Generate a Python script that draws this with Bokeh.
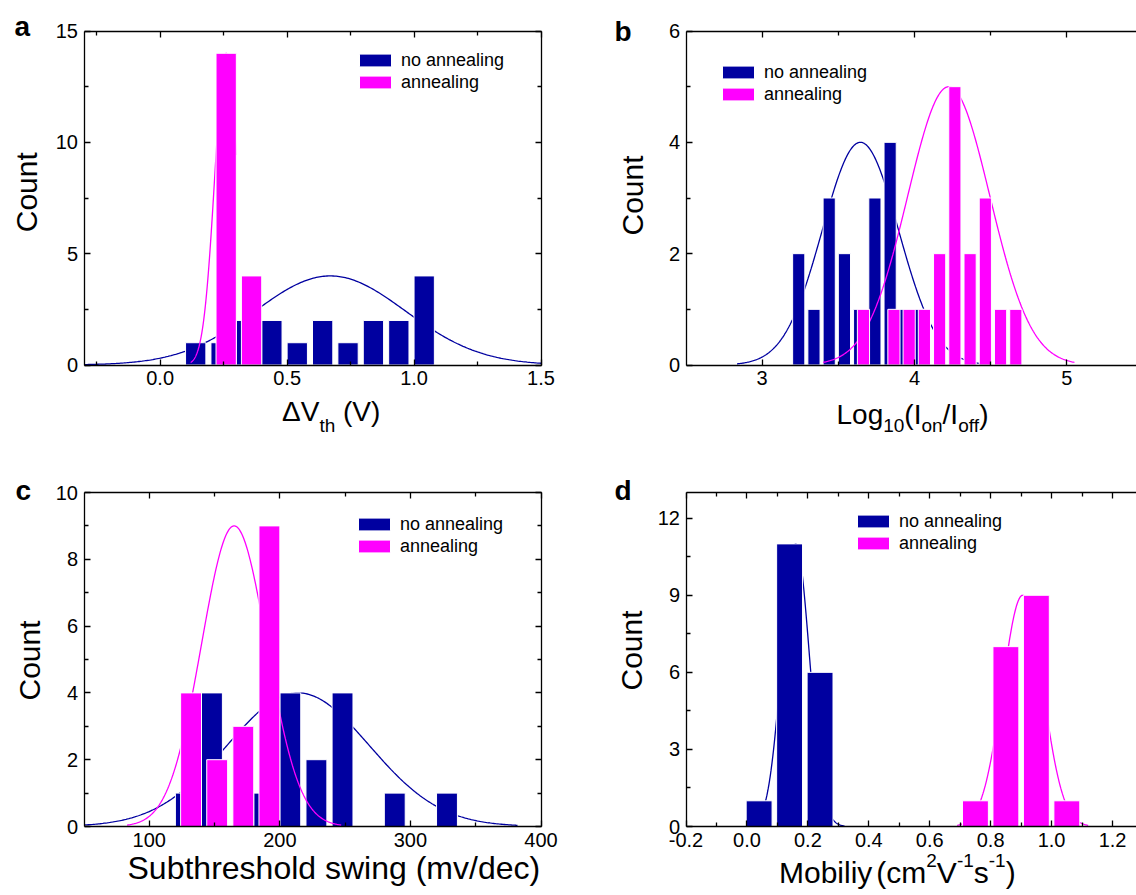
import numpy as np
from bokeh.plotting import figure
from bokeh.models import (Range1d, LinearAxis, FixedTicker, PrintfTickFormatter,
                          Legend, LegendItem, Label)
from bokeh.embed import file_html
from bokeh.resources import INLINE

NAVY = "#0000A0"
PINK = "#FF00FF"
FONT = "Liberation Sans"

# ---------------- data ----------------
# panel a : Delta V_th (V)
a_blue_x = [0.14, 0.24, 0.34, 0.44, 0.54, 0.64, 0.74, 0.84, 0.94, 1.04]
a_blue_n = [1, 1, 2, 2, 1, 2, 1, 2, 2, 4]
a_pink_x = [0.26, 0.36]
a_pink_n = [14, 4]
# fitted normal curves: mean, sd, peak, x from, x to
a_blue_fit = [0.67, 0.296, 4.0, -0.3, 1.5]
a_pink_fit = [0.26, 0.045, 14.0, 0.12, 0.30]

# panel b : Log10(Ion/Ioff)
b_blue_x = [3.24, 3.34, 3.44, 3.54, 3.64, 3.74, 3.84, 3.94, 4.04]
b_blue_n = [2, 1, 3, 2, 1, 3, 4, 1, 1]
b_pink_x = [3.665, 3.865, 3.965, 4.065, 4.165, 4.265, 4.365, 4.465, 4.565, 4.665]
b_pink_n = [1, 1, 1, 1, 2, 5, 2, 3, 1, 1]
b_blue_fit = [3.645, 0.25, 4.0, 2.835, 4.435]
b_pink_fit = [4.225, 0.27, 5.0, 3.40, 5.05]

# panel c : subthreshold swing (mv/dec)
c_blue_x = [128, 148, 188, 208, 228, 248, 288, 328]
c_blue_n = [1, 4, 1, 4, 2, 4, 1, 1]
c_pink_x = [132, 152, 172, 192]
c_pink_n = [4, 2, 3, 9]
c_blue_fit = [214.0, 54.5, 4.0, 50.0, 382.0]
c_pink_fit = [165.0, 25.0, 9.0, 83.0, 247.0]

# panel d : mobility
d_blue_x = [0.04, 0.14, 0.24]
d_blue_n = [1, 11, 6]
d_pink_x = [0.75, 0.85, 0.95, 1.05]
d_pink_n = [1, 7, 9, 1]
d_blue_fit = [0.16, 0.045, 11.0, 0.0, 0.32]
d_pink_fit = [0.905, 0.066, 9.0, 0.69, 1.12]

legend_labels = ["no annealing", "annealing"]

# ---------------- helpers ----------------
ARIAL = {' ': 278, '(': 333, ')': 333, '/': 278, '-': 333, 'Δ': 668, 'V': 667, 'L': 556,
         'I': 278, 'S': 667, 'M': 833, 'C': 722, 'a': 556, 'b': 556, 'c': 500, 'd': 556,
         'e': 556, 'f': 278, 'g': 556, 'h': 556, 'i': 222, 'l': 222, 'm': 833, 'n': 556,
         'o': 556, 'r': 333, 's': 500, 't': 278, 'u': 556, 'v': 500, 'w': 722, 'y': 500}


def text_width(s, size):
    return sum(ARIAL.get(ch, 556) for ch in s) / 1000.0 * size


def gauss_curve(fit):
    mean, sd, peak, lo, hi = fit
    xs = np.linspace(lo, hi, 300)
    ys = peak * np.exp(-(xs - mean) ** 2 / (2 * sd ** 2))
    return xs, ys


def style_axis(ax, labels=True):
    ax.axis_line_color = "black"
    ax.axis_line_width = 1.3
    ax.major_tick_line_color = "black"
    ax.major_tick_line_width = 1.3
    ax.minor_tick_line_color = "black"
    ax.minor_tick_line_width = 1.3
    ax.major_tick_in = 6
    ax.major_tick_out = 0
    ax.minor_tick_in = 4
    ax.minor_tick_out = 0
    if labels:
        ax.major_label_text_font = FONT
        ax.major_label_text_font_size = "20px"
        ax.major_label_text_color = "black"
        ax.major_label_standoff = 6
    else:
        ax.major_label_text_font_size = "0px"
        ax.major_label_text_color = None
        ax.major_label_standoff = 0


# ---------------- one canvas, page pixel coordinates ----------------
W, H = 1136, 890
SHIFT = 2   # bottom row drawn 2px higher than the reference so that it fits
BASE = 0.4  # distance (in em) between the label anchor and the glyph baseline

p = figure(width=W, height=H, x_range=Range1d(0, W), y_range=Range1d(H, 0),
           x_axis_type=None, y_axis_type=None, output_backend="svg",
           toolbar_location=None, min_border=0, outline_line_color=None,
           background_fill_color="white", border_fill_color="white")
p.xgrid.visible = False
p.ygrid.visible = False

extra_x = {}
extra_y = {}


def text(x, y, txt, size, bold=False, angle=0.0, align="left"):
    # (x, y) is where the baseline should be
    if angle == 0.0:
        y = y - BASE * size
    else:
        x = x - BASE * size
    p.add_layout(Label(x=x, y=y, text=txt, text_font=FONT, text_font_size=f"{size}px",
                       text_font_style="bold" if bold else "normal",
                       text_align=align, text_baseline="alphabetic",
                       angle=angle, text_color="black"))


def composite(x, y, pieces):
    for txt, size, dy, gap in pieces:
        x += gap
        text(x, y + dy, txt, size)
        x += text_width(txt, size)


def panel(name, box, xr, yr, xt, xm, yt, ym, xfmt, yfmt,
          bx, bn, px, pn, bfit, pfit, width, legend_at):
    L, R, T, B = box
    sx = (xr[1] - xr[0]) / (R - L)
    extra_x[name] = Range1d(xr[0] - L * sx, xr[0] + (W - L) * sx)
    yb, yt_ = H - B, H - T
    sy = (yr[1] - yr[0]) / (yt_ - yb)
    extra_y[name] = Range1d(yr[0] - yb * sy, yr[0] + (H - yb) * sy)
    p.extra_x_ranges = dict(extra_x)
    p.extra_y_ranges = dict(extra_y)

    kw = dict(x_range_name=name, y_range_name=name)
    for side, loc, bounds, tick, fmt, lab in [
            ("below", yr[0], xr, (xt, xm), xfmt, True),
            ("above", yr[1], xr, (xt, xm), xfmt, False),
            ("left", xr[0], yr, (yt, ym), yfmt, True),
            ("right", xr[1], yr, (yt, ym), yfmt, False)]:
        ax = LinearAxis(fixed_location=loc, bounds=bounds,
                        ticker=FixedTicker(ticks=tick[0], minor_ticks=tick[1]),
                        formatter=PrintfTickFormatter(format=fmt), **kw)
        style_axis(ax, lab)
        p.add_layout(ax, side)

    xs, ys = gauss_curve(bfit)
    p.line(xs, ys, line_color=NAVY, line_width=1.3, **kw)
    rb = p.vbar(x=bx, top=bn, bottom=0, width=width, fill_color=NAVY,
                line_color="white", line_width=1, **kw)
    xs, ys = gauss_curve(pfit)
    p.line(xs, ys, line_color=PINK, line_width=1.3, **kw)
    rp = p.vbar(x=px, top=pn, bottom=0, width=width, fill_color=PINK,
                line_color="white", line_width=1, **kw)

    lx, ly = legend_at
    leg = Legend(items=[LegendItem(label=legend_labels[0], renderers=[rb]),
                        LegendItem(label=legend_labels[1], renderers=[rp])],
                 location=(lx, H - ly - 40),
                 orientation="vertical", padding=0, margin=0, spacing=0,
                 glyph_width=40, glyph_height=16, label_height=22, label_standoff=6,
                 label_text_font=FONT, label_text_font_size="18px",
                 label_text_color="black",
                 border_line_color=None, background_fill_alpha=0)
    p.add_layout(leg)


# boxes: left, right, top, bottom of each plot frame in page pixels
panel("a", (83.5, 540.5, 30.5, 364.5), (-0.3, 1.5), (0, 15),
      [0.0, 0.5, 1.0, 1.5], [-0.25, 0.25, 0.75, 1.25], [0, 5, 10, 15], [2.5, 7.5, 12.5],
      "%.1f", "%d", a_blue_x, a_blue_n, a_pink_x, a_pink_n, a_blue_fit, a_pink_fit,
      0.08, (355, 53))
panel("b", (685.5, 1142.5, 30.5, 364.5), (2.5, 5.5), (0, 6),
      [3, 4, 5], [3.5, 4.5], [0, 2, 4, 6], [1, 3, 5],
      "%d", "%d", b_blue_x, b_blue_n, b_pink_x, b_pink_n, b_blue_fit, b_pink_fit,
      0.08, (718, 65))
panel("c", (83.5, 540.5, 494 - SHIFT, 828 - SHIFT), (50, 400), (0, 10),
      [100, 200, 300, 400], [150, 250, 350], [0, 2, 4, 6, 8, 10], [1, 3, 5, 7, 9],
      "%d", "%d", c_blue_x, c_blue_n, c_pink_x, c_pink_n, c_blue_fit, c_pink_fit,
      16, (354, 519 - SHIFT))
panel("d", (685.5, 1142.5, 494 - SHIFT, 828 - SHIFT), (-0.2, 1.3), (0, 13),
      [-0.2, 0.0, 0.2, 0.4, 0.6, 0.8, 1.0, 1.2], [-0.1, 0.1, 0.3, 0.5, 0.7, 0.9, 1.1],
      [0, 3, 6, 9, 12], [1.5, 4.5, 7.5, 10.5],
      "%.1f", "%d", d_blue_x, d_blue_n, d_pink_x, d_pink_n, d_blue_fit, d_pink_fit,
      0.085, (853, 516 - SHIFT))

# panel letters
text(14, 36.7, "a", 28, bold=True)
text(614, 41.7, "b", 28, bold=True)
text(15, 502.7 - SHIFT, "c", 28, bold=True)
text(614, 503.3 - SHIFT, "d", 28, bold=True)

# y axis titles (baseline x, centre y)
text(37.6, 191.7, "Count", 30, angle=np.pi / 2, align="center")
text(644.1, 195.0, "Count", 30, angle=np.pi / 2, align="center")
text(41.1, 662.0 - SHIFT, "Count", 30, angle=np.pi / 2, align="center")
text(643.0, 652.0 - SHIFT, "Count", 30, angle=np.pi / 2, align="center")

# x axis titles (start x, baseline y)
composite(281.5, 421.7, [("ΔV", 28, 0, 0), ("th", 19, 11, 0), ("(V)", 28, 0, 7.8)])
composite(836, 425.0, [("Log", 28, 0, 0), ("10", 19, 8, 0), ("(I", 28, 0, 0),
                       ("on", 19, 8, 0), ("/I", 28, 0, 0), ("off", 19, 8, 0), (")", 28, 0, 0)])
composite(127, 882.5 - SHIFT, [("Subthreshold swing (mv/dec)", 32, 0, 0)])
composite(778.5, 886.0 - SHIFT, [("Mobiliy", 30, 0, 0), ("(cm", 30, 0, 4), ("2", 19, -16.7, 0),
                                 ("V", 30, 0, 0), ("-1", 19, -16.7, 0), ("s", 30, 0, 0),
                                 ("-1", 19, -16.7, 0), (")", 30, 0, 0)])

open("out.html", "w").write(file_html(p, INLINE))
